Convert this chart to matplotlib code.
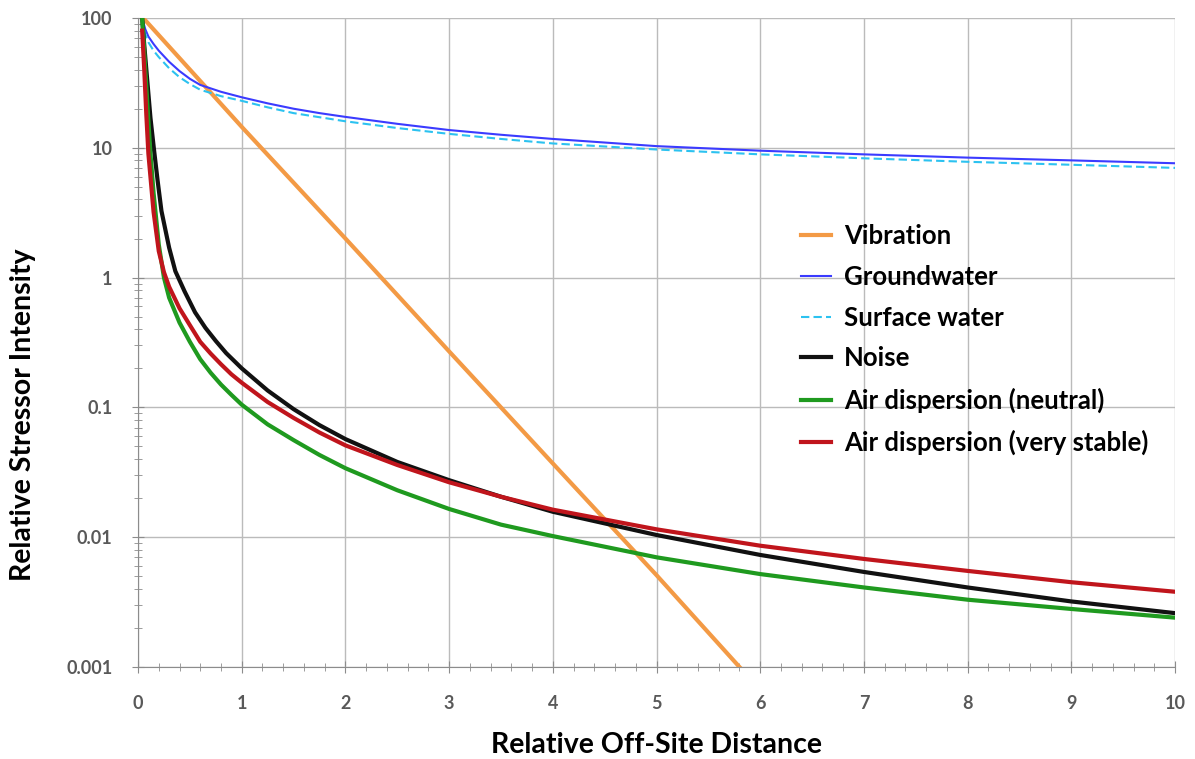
import matplotlib.pyplot as plt
import numpy as np
from matplotlib.ticker import MultipleLocator, LogLocator, FixedLocator, FixedFormatter, NullFormatter

plt.rcParams['font.family'] = ['Lato', 'DejaVu Sans']

# data
vib_x = [0.05, 1, 2, 3, 4, 5, 5.8]
vib_y = [100, 14.5, 2.0, 0.27, 0.037, 0.0051, 0.001]

gw_x = [0.04, 0.07, 0.1, 0.15, 0.2, 0.3, 0.4, 0.5, 0.6, 0.8, 1, 1.25, 1.5, 1.75, 2, 2.5, 3, 3.5,
        4, 5, 6, 7, 8, 9, 10]
gw_y = [100, 82, 72, 63, 56, 46, 39, 34, 30.5, 27, 24.5, 22, 20, 18.5, 17.3, 15.3, 13.7, 12.6,
        11.7, 10.3, 9.5, 8.9, 8.4, 8.0, 7.6]

sw_x = [0.04, 0.07, 0.1, 0.15, 0.2, 0.3, 0.4, 0.5, 0.6, 0.8, 1, 1.25, 1.5, 1.75, 2, 2.5, 3, 3.5,
        4, 5, 6, 7, 8, 9, 10]
sw_y = [100, 75, 65, 56, 50, 41, 35, 31, 28, 25, 23, 20.5, 18.5, 17.2, 16, 14.2, 12.8, 11.7,
        10.8, 9.7, 8.9, 8.3, 7.8, 7.4, 7.0]

noise_x = [0.04, 0.06, 0.087, 0.12, 0.152, 0.19, 0.226, 0.3, 0.36, 0.45, 0.55, 0.65, 0.75, 0.85,
           1, 1.25, 1.5, 1.75, 2, 2.5, 3, 3.5, 4, 5, 6, 7, 8, 9, 10]
noise_y = [100, 62, 34.5, 17, 10, 5.5, 3.26, 1.7, 1.12, 0.78, 0.54, 0.41, 0.325, 0.262,
           0.2, 0.135, 0.097, 0.073, 0.057, 0.038, 0.0275, 0.0205, 0.0157, 0.0104, 0.0073,
           0.0054, 0.0041, 0.0032, 0.0026]

neut_x = [0.04, 0.06, 0.08, 0.1, 0.12, 0.15, 0.2, 0.25, 0.3, 0.4, 0.5, 0.6, 0.7, 0.8, 0.9, 1,
          1.25, 1.5, 1.75, 2, 2.5, 3, 3.5, 4, 5, 6, 7, 8, 9, 10]
neut_y = [100, 55, 30, 16, 9, 4.5, 1.8, 1.0, 0.7, 0.45, 0.32, 0.235, 0.185, 0.15, 0.125, 0.105,
          0.074, 0.056, 0.043, 0.034, 0.023, 0.0165, 0.0125, 0.0102, 0.0070, 0.0052, 0.0041,
          0.0033, 0.0028, 0.0024]

stab_x = [0.04, 0.06, 0.08, 0.1, 0.15, 0.2, 0.25, 0.3, 0.4, 0.5, 0.6, 0.7, 0.8, 0.9, 1, 1.25,
          1.5, 1.75, 2, 2.5, 3, 3.5, 4, 5, 6, 7, 8, 9, 10]
stab_y = [80, 40, 18, 9, 3.2, 1.6, 1.1, 0.85, 0.58, 0.43, 0.32, 0.26, 0.215, 0.18, 0.155, 0.11,
          0.083, 0.064, 0.051, 0.036, 0.0265, 0.0205, 0.0163, 0.0115, 0.0086, 0.0068, 0.0055,
          0.0045, 0.0038]

labels = ['Vibration', 'Groundwater', 'Surface water', 'Noise',
          'Air dispersion (neutral)', 'Air dispersion (very stable)']

fig = plt.figure(figsize=(11.95, 7.59), dpi=100)
ax = fig.add_axes([0.1155, 0.1212, 0.8678, 0.8551])

ax.plot(vib_x, vib_y, color='#f39a45', lw=3, label=labels[0])
ax.plot(gw_x, gw_y, color='#3b3bff', lw=1.5, label=labels[1])
ax.plot(sw_x, sw_y, color='#2cc2f0', lw=1.5, ls=(0, (4, 2)), label=labels[2])
ax.plot(noise_x, noise_y, color='#111111', lw=3, label=labels[3])
ax.plot(neut_x, neut_y, color='#1f9a1f', lw=3, label=labels[4])
ax.plot(stab_x, stab_y, color='#c0151c', lw=3, label=labels[5])

ax.set_yscale('log')
ax.set_xlim(0, 10)
ax.set_ylim(0.001, 100)

ax.xaxis.set_major_locator(MultipleLocator(1))
ax.xaxis.set_minor_locator(MultipleLocator(0.2))
yt = [0.001, 0.01, 0.1, 1, 10, 100]
ax.yaxis.set_major_locator(FixedLocator(yt))
ax.yaxis.set_major_formatter(FixedFormatter(['0.001', '0.01', '0.1', '1', '10', '100']))
ax.yaxis.set_minor_locator(LogLocator(base=10, subs=np.arange(2, 10)))
ax.yaxis.set_minor_formatter(NullFormatter())

ax.grid(True, which='major', color='#bbbbbb', lw=1)
for s in ['top', 'right']:
    ax.spines[s].set_visible(False)
for s in ['left', 'bottom']:
    ax.spines[s].set_color('#8c8c8c')

ax.tick_params(axis='both', which='major', direction='inout', length=9, color='#8c8c8c',
               labelsize=13, labelcolor='#595959')
ax.tick_params(axis='both', which='minor', direction='inout', length=6, color='#8c8c8c')
ax.tick_params(axis='x', which='major', pad=16)
ax.tick_params(axis='y', which='major', pad=14)
for t in ax.get_xticklabels() + ax.get_yticklabels():
    t.set_fontweight('bold')

ax.set_xlabel('Relative Off-Site Distance', fontsize=20.5, fontweight='bold', labelpad=14)
ax.set_ylabel('Relative Stressor Intensity', fontsize=20.5, fontweight='bold')
ax.yaxis.set_label_coords(-0.098, 0.388)

leg = ax.legend(loc='upper left', bbox_to_anchor=(0.627, 0.703), frameon=False, borderpad=0,
                handlelength=1.17, handletextpad=0.5, labelspacing=0.66,
                prop={'size': 18.5, 'weight': 'bold'})

fig.savefig('out.png', dpi=100)
